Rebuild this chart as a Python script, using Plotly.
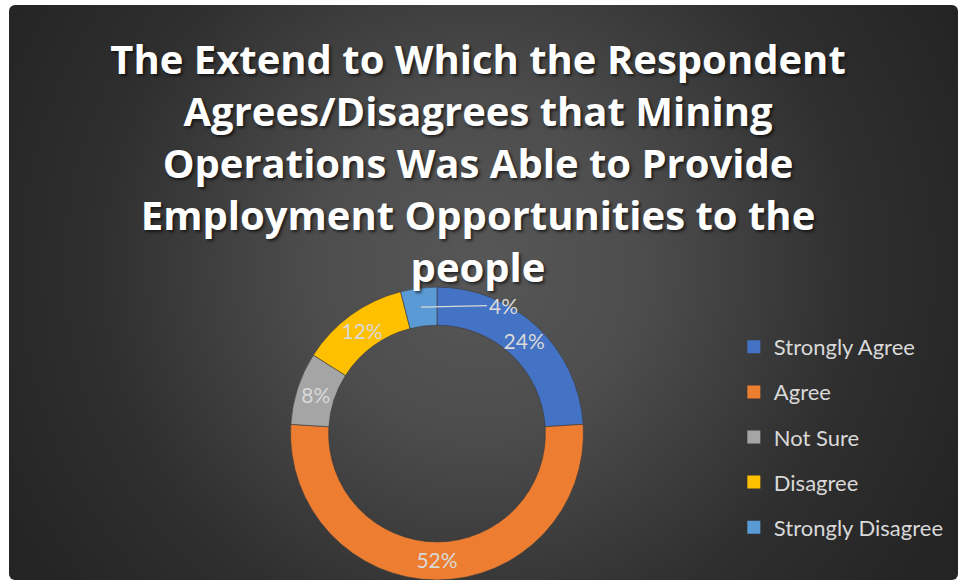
import base64
import math
import plotly.graph_objects as go

# ---- data -------------------------------------------------------------
categories = ["Strongly Agree", "Agree", "Not Sure", "Disagree", "Strongly Disagree"]
shares = [24, 52, 8, 12, 4]          # percent of respondents
slice_colors = ["#4472C4", "#ED7D31", "#A5A5A5", "#FFC000", "#5B9BD5"]
title_lines = [
    "The Extend to Which the Respondent",
    "Agrees/Disagrees that Mining",
    "Operations Was Able to Provide",
    "Employment Opportunities to the",
    "people",
]
callout_category = "Strongly Disagree"   # label drawn outside with a leader line

# ---- geometry ---------------------------------------------------------
W, H = 958, 580
dom_x = [0.3027, 0.6096]
dom_y = [0.0, 0.505]
hole = 0.74
label_font = dict(family="Lato", size=21, color="#D9D9D9")

# ---- dark radial-gradient card behind the chart ------------------------
card_w, card_h = W - 9, H - 5
svg = f"""<svg xmlns="http://www.w3.org/2000/svg" width="{card_w}" height="{card_h}"
 viewBox="0 0 {card_w} {card_h}" preserveAspectRatio="none">
<defs><radialGradient id="g" gradientUnits="userSpaceOnUse" cx="468" cy="262" r="540">
<stop offset="0" stop-color="#575757"/><stop offset="0.3" stop-color="#4d4d4d"/>
<stop offset="0.7" stop-color="#2f2f2f"/><stop offset="1" stop-color="#242424"/>
</radialGradient></defs>
<rect x="0" y="0" width="{card_w}" height="{card_h}" rx="6" ry="6" fill="url(#g)"/>
</svg>"""
card_src = "data:image/svg+xml;base64," + base64.b64encode(svg.encode()).decode()

# ---- donut --------------------------------------------------------------
slice_text = ["" if c == callout_category else f"{v}%" for c, v in zip(categories, shares)]

fig = go.Figure()
fig.add_trace(go.Pie(
    labels=categories,
    values=shares,
    text=slice_text,
    textinfo="text",
    textposition="inside",
    insidetextorientation="horizontal",
    textfont=label_font,
    hole=hole,
    sort=False,
    direction="clockwise",
    rotation=0,
    marker=dict(colors=slice_colors, line=dict(color="#3a3a3a", width=0.6)),
    domain=dict(x=dom_x, y=dom_y),
    showlegend=False,
    hoverinfo="label+percent",
))

# leader-line label for the thin slice, anchored at its mid-angle on the ring
total = sum(shares)
idx = categories.index(callout_category)
start = sum(shares[:idx]) / total
mid_angle = 2 * math.pi * (start + shares[idx] / total / 2)
dw, dh = (dom_x[1] - dom_x[0]) * W, (dom_y[1] - dom_y[0]) * H
R = min(dw, dh) / 2
r_mid = R * (1 + hole) / 2
cx = (dom_x[0] + dom_x[1]) / 2 * W
cy = (dom_y[0] + dom_y[1]) / 2 * H
tip_x = (cx + r_mid * math.sin(mid_angle)) / W
tip_y = (cy + r_mid * math.cos(mid_angle)) / H
fig.add_annotation(
    x=tip_x, y=tip_y, xref="paper", yref="paper",
    text=f"{shares[idx]}%", font=label_font,
    showarrow=True, arrowhead=0, arrowwidth=1.2, arrowcolor="#D9D9D9",
    ax=82, ay=-2, standoff=0,
)

# legend entries (square swatches, generous spacing)
for name, col in zip(categories, slice_colors):
    fig.add_trace(go.Scatter(
        x=[None], y=[None], mode="markers", name=name, legendgroup=name,
        marker=dict(symbol="square", size=13, color=col),
        showlegend=True, hoverinfo="skip",
    ))

fig.update_layout(
    width=W, height=H,
    margin=dict(l=0, r=0, t=0, b=0),
    paper_bgcolor="white",
    plot_bgcolor="rgba(0,0,0,0)",
    xaxis=dict(visible=False),
    yaxis=dict(visible=False),
    uniformtext=dict(minsize=21, mode="show"),
    title=dict(
        text="<br>".join(title_lines),
        x=0.499, xanchor="center",
        y=1 - 74 / H, yanchor="top",
        font=dict(family="Open Sans", size=40, color="white", weight="bold",
                  shadow="2px 2px 3px rgba(0,0,0,0.6)"),
    ),
    legend=dict(
        x=0.766, xanchor="left", y=1 - 326 / H, yanchor="top",
        font=dict(family="Lato", size=22, color="#D9D9D9"),
        bgcolor="rgba(0,0,0,0)",
        tracegroupgap=13.5,
        itemclick=False, itemdoubleclick=False,
    ),
    images=[dict(
        source=card_src, xref="paper", yref="paper",
        x=9 / W, y=1 - 5 / H, sizex=card_w / W, sizey=card_h / H,
        xanchor="left", yanchor="top", sizing="stretch", layer="below",
    )],
)

fig.write_html("out.html")
